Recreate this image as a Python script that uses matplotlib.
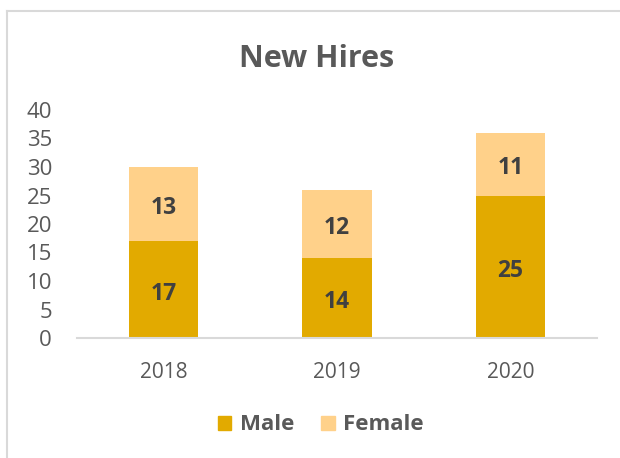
import matplotlib
matplotlib.use("Agg")
import matplotlib.pyplot as plt
from matplotlib.lines import Line2D
from matplotlib.patches import Patch

years = ["2018", "2019", "2020"]
male = [17, 14, 25]
female = [13, 12, 11]
yticks = [0, 5, 10, 15, 20, 25, 30, 35, 40]

plt.rcParams['font.family'] = ['Open Sans', 'DejaVu Sans']

W, H = 620, 458
fig = plt.figure(figsize=(W/100, H/100), dpi=100)
ax = fig.add_axes([77/W, 1-338/H, 520/W, (338-110)/H])

c_male = "#E2AA00"
c_female = "#FFD18A"
x = range(len(years))
b1 = ax.bar(x, male, width=0.4, color=c_male, label="Male")
b2 = ax.bar(x, female, width=0.4, bottom=male, color=c_female, label="Female")

for i in x:
    ax.annotate(str(male[i]), (i, male[i]/2), xytext=(0, -3), textcoords="offset points",
                ha="center", va="center", fontsize=16.5, fontweight="bold", color="#404040")
    ax.annotate(str(female[i]), (i, male[i] + female[i]/2), xytext=(0, -3), textcoords="offset points",
                ha="center", va="center", fontsize=16.5, fontweight="bold", color="#404040")

ax.set_xlim(-0.5, 2.5)
ax.set_ylim(0, 40)
ax.set_yticks(yticks)
ax.set_yticklabels([str(t) for t in yticks], fontsize=16, color="#595959")
ax.set_xticks(list(x))
ax.set_xticklabels(years, fontsize=15, color="#595959")
ax.tick_params(axis="y", length=0, pad=18)
ax.tick_params(axis="x", length=0, pad=17)
for s in ["top", "right", "left"]:
    ax.spines[s].set_visible(False)
ax.spines["bottom"].set_color("#D9D9D9")
ax.spines["bottom"].set_linewidth(1.5)

fig.text(317/W, 1-59/H, "New Hires", ha="center", va="center",
         fontsize=22, fontweight="bold", color="#595959")

leg = fig.legend(handles=[Patch(color=c_male, label="Male"), Patch(color=c_female, label="Female")],
                 loc="center", bbox_to_anchor=(321/W, 1-425/H), ncol=2, frameon=False,
                 handlelength=0.6, handleheight=0.6, handletextpad=0.4, columnspacing=1.2,
                 prop={"size": 16, "weight": "bold"})
for t in leg.get_texts():
    t.set_color("#595959")

fig.add_artist(Line2D([7/W, 7/W], [0, 1-11/H], color="#D9D9D9", lw=1.5, transform=fig.transFigure))
fig.add_artist(Line2D([7/W, 1], [1-11/H, 1-11/H], color="#D9D9D9", lw=1.5, transform=fig.transFigure))

fig.savefig("out.png", dpi=100)
